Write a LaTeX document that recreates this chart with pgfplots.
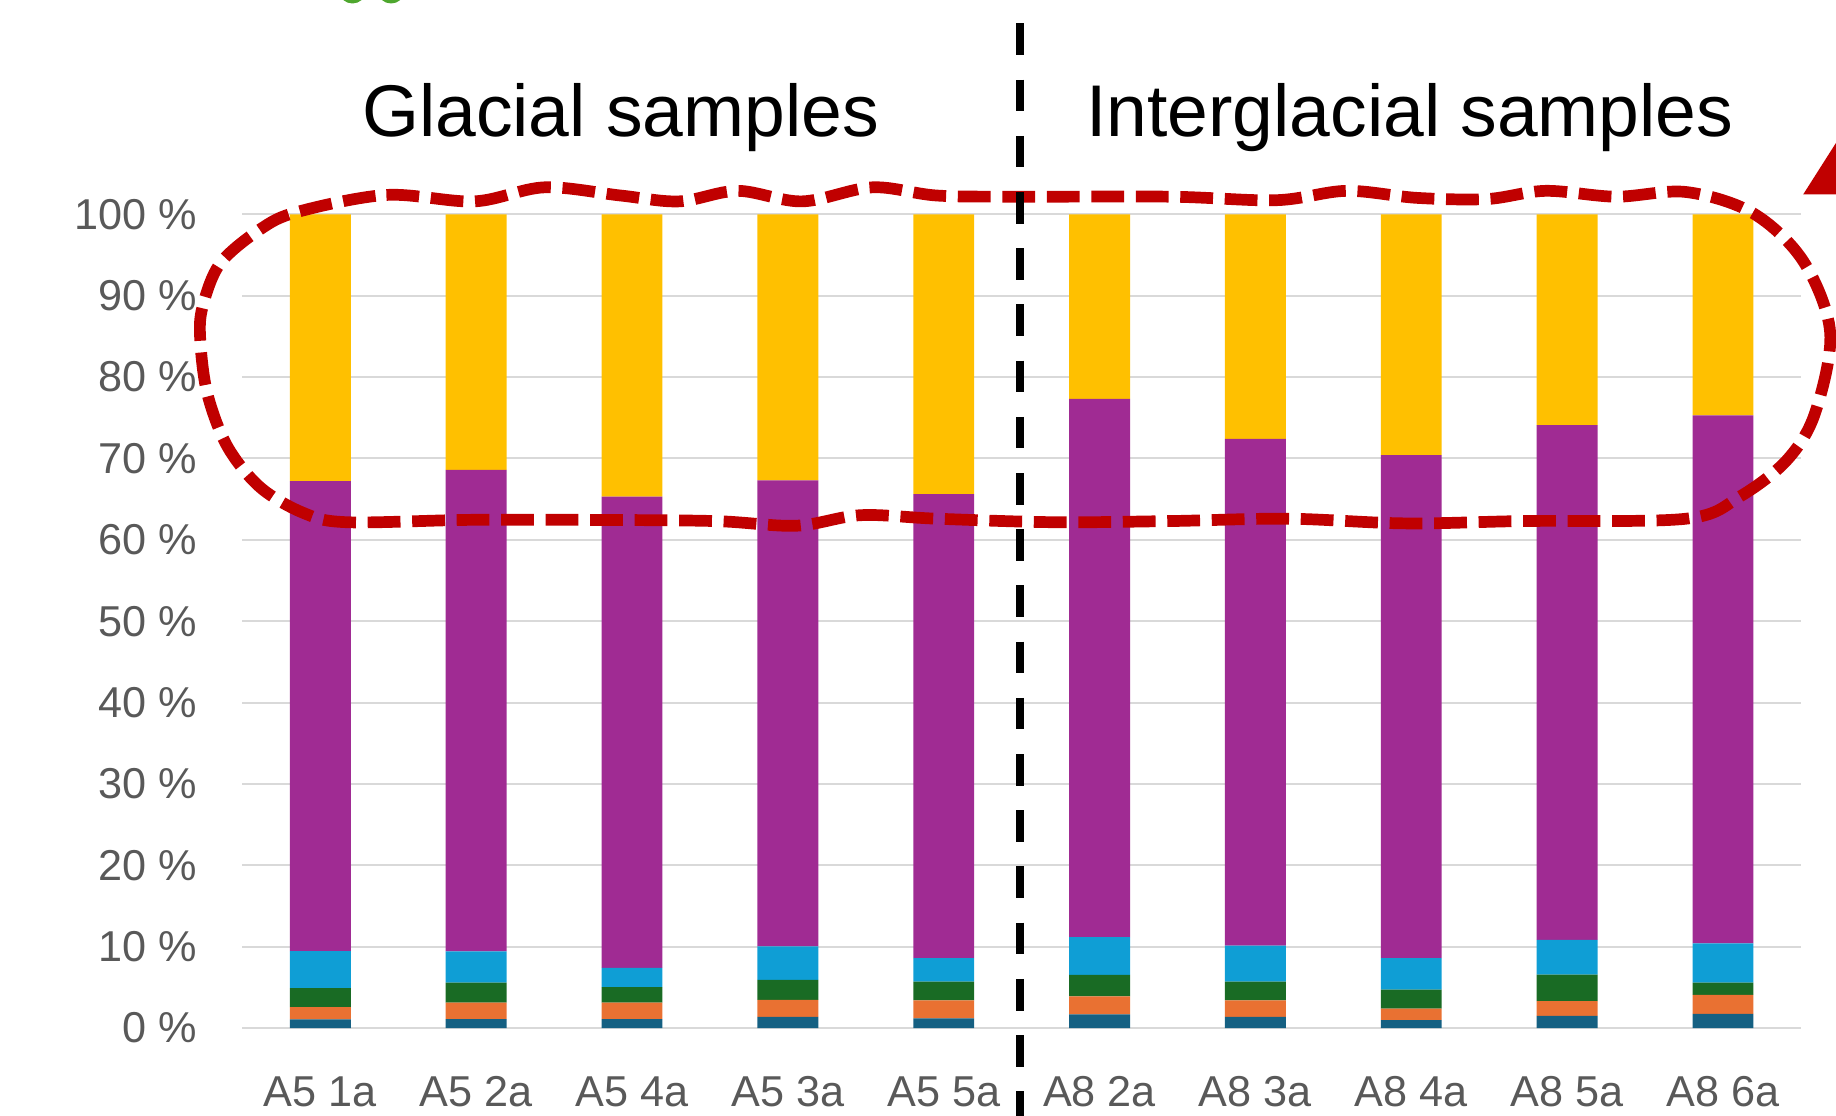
\documentclass[border=0pt]{standalone}
\usepackage{pgfplots}
\pgfplotsset{compat=1.18}
\usepackage{pgfplotstable}
\usepackage{fontspec}
\setmainfont{Liberation Sans}

\definecolor{cDarkBlue}{HTML}{156082}
\definecolor{cOrange}{HTML}{E97132}
\definecolor{cGreen}{HTML}{196B24}
\definecolor{cLightBlue}{HTML}{0F9ED5}
\definecolor{cPurple}{HTML}{A02B93}
\definecolor{cYellow}{HTML}{FFC000}
\definecolor{gridgray}{HTML}{D9D9D9}
\definecolor{labelgray}{HTML}{595959}
\definecolor{loopred}{HTML}{C00000}
\definecolor{leafgreen}{HTML}{4EA72E}

% Relative abundance (%) of each fraction per sample, bottom to top
\pgfplotstableread{
idx dblue orange green lblue purple yellow
0 1.07 1.49 2.36 4.54 57.74 32.80
1 1.10 2.04 2.44 3.84 59.18 31.40
2 1.10 2.04 1.90 2.36 57.90 34.70
3 1.36 2.11 2.44 4.13 57.26 32.70
4 1.20 2.19 2.31 2.90 57.00 34.40
5 1.69 2.19 2.65 4.63 66.14 22.70
6 1.36 2.03 2.31 4.42 62.28 27.60
7 0.99 1.41 2.31 3.89 61.80 29.60
8 1.49 1.82 3.26 4.26 63.27 25.90
9 1.74 2.35 1.49 4.83 64.89 24.70
}\shares

\begin{document}
\begin{tikzpicture}[x=1cm,y=1cm]
\useasboundingbox (0,0) rectangle (15.68,9.53);
\clip (0,0) rectangle (15.68,9.53);

\begin{axis}[
  at={(2.07cm,0.75cm)}, anchor=south west,
  scale only axis, width=13.31cm, height=6.95cm,
  xmin=-0.5, xmax=9.5, ymin=0, ymax=100,
  ybar stacked, bar width=0.52cm,
  axis line style={draw=none},
  major tick length=0pt,
  ymajorgrids, grid style={color=gridgray, line width=0.5pt},
  xtick={0,...,9},
  xticklabels={A5 1a,A5 2a,A5 4a,A5 3a,A5 5a,A8 2a,A8 3a,A8 4a,A8 5a,A8 6a},
  ytick={0,10,...,100},
  yticklabels={0 \%,10 \%,20 \%,30 \%,40 \%,50 \%,60 \%,70 \%,80 \%,90 \%,100 \%},
  tick label style={font=\fontsize{10.5}{12}\selectfont, text=labelgray, inner sep=0pt},
  yticklabel style={anchor=east, xshift=-0.38cm},
  xticklabel style={anchor=base, yshift=-0.67cm},
  every axis plot/.append style={draw=none},
]
\addplot[fill=cDarkBlue]  table[x=idx, y=dblue]  {\shares};
\addplot[fill=cOrange]    table[x=idx, y=orange] {\shares};
\addplot[fill=cGreen]     table[x=idx, y=green]  {\shares};
\addplot[fill=cLightBlue] table[x=idx, y=lblue]  {\shares};
\addplot[fill=cPurple]    table[x=idx, y=purple] {\shares};
\addplot[fill=cYellow]    table[x=idx, y=yellow] {\shares};
\end{axis}

% group titles
\node[anchor=base, font=\fontsize{17.8}{20}\selectfont] at (5.30,8.36) {Glacial samples};
\node[anchor=base, font=\fontsize{17.8}{20}\selectfont] at (12.04,8.36) {Interglacial samples};

% highlighted region
\draw[loopred, line width=0.10cm, dash pattern=on 0.28cm off 0.10cm]
  plot[smooth cycle, tension=0.55] coordinates {
    (2.54,7.72) (3.30,7.865) (4.05,7.81) (4.65,7.93) (5.30,7.86)
    (5.80,7.81) (6.30,7.90) (6.85,7.81) (7.45,7.93) (8.00,7.86) (8.70,7.85)
    (10.00,7.85) (10.90,7.82) (11.50,7.90) (12.10,7.84) (12.70,7.83)
    (13.20,7.90) (13.80,7.85) (14.40,7.89) (14.97,7.71) (15.40,7.30)
    (15.63,6.69) (15.50,6.00) (15.26,5.60) (14.86,5.29) (14.40,5.10)
    (13.00,5.08) (12.00,5.06) (11.00,5.10) (10.00,5.08) (9.00,5.07)
    (8.00,5.10) (7.35,5.13) (6.80,5.04) (6.10,5.08) (5.00,5.09) (4.00,5.09)
    (2.96,5.07) (2.59,5.15) (2.22,5.37) (1.94,5.72) (1.77,6.17) (1.71,6.63)
    (1.73,6.91) (1.88,7.28) (2.22,7.57)
  };

% arrow head at the right edge
\fill[loopred] (15.40,7.87) -- (16.10,7.87) -- (15.96,8.75) -- cycle;

% green marks at the top edge
\fill[leafgreen] (3.01,9.60) ellipse (0.11 and 0.10);
\fill[leafgreen] (3.34,9.60) ellipse (0.11 and 0.10);

% separator between the two groups
\draw[black, line width=0.065cm, dash pattern=on 0.27cm off 0.21cm]
  (8.71,9.33) -- (8.71,-0.3);
\end{tikzpicture}
\end{document}
